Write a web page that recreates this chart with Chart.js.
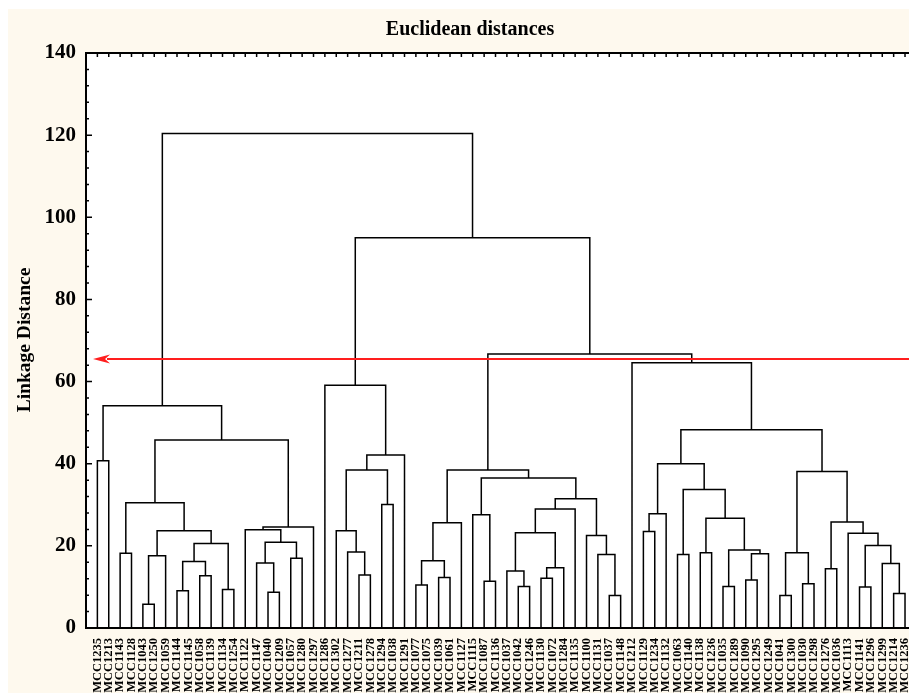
<!DOCTYPE html>
<html>
<head>
<meta charset="utf-8">
<title>Euclidean distances</title>
<script src="https://cdn.jsdelivr.net/npm/chart.js@4.4.1/dist/chart.umd.min.js"></script>
<style>
  html, body { margin: 0; padding: 0; background: #fff; }
  #wrap { width: 909px; height: 693px; }
</style>
</head>
<body>
<div id="wrap"><canvas id="chart" width="909" height="693"></canvas></div>
<script>
// leaves in the order they are drawn, left to right
const leafNames = [
  "MCC1235", "MCC1213", "MCC1143", "MCC1128", "MCC1043", "MCC1250", "MCC1059", "MCC1144",
  "MCC1145", "MCC1058", "MCC1139", "MCC1134", "MCC1254", "MCC1122", "MCC1147", "MCC1040",
  "MCC1209", "MCC1057", "MCC1280", "MCC1297", "MCC1286", "MCC1302", "MCC1277", "MCC1211",
  "MCC1278", "MCC1294", "MCC1038", "MCC1291", "MCC1077", "MCC1075", "MCC1039", "MCC1061",
  "MCC1127", "MCC1115", "MCC1087", "MCC1136", "MCC1037", "MCC1042", "MCC1246", "MCC1130",
  "MCC1072", "MCC1284", "MCC1135", "MCC1100", "MCC1131", "MCC1037", "MCC1148", "MCC1212",
  "MCC1129", "MCC1234", "MCC1132", "MCC1063", "MCC1140", "MCC1138", "MCC1236", "MCC1035",
  "MCC1289", "MCC1090", "MCC1295", "MCC1249", "MCC1041", "MCC1300", "MCC1030", "MCC1298",
  "MCC1276", "MCC1036", "MCC1113", "MCC1141", "MCC1296", "MCC1299", "MCC1214", "MCC1236"
];

// linkage: [node a, node b, linkage distance]; leaves are 0..71, merge k becomes node 72+k
const linkage = [
  [4, 5, 5.8], [2, 3, 18.2], [72, 6, 17.6], [7, 8, 9.1], [9, 10, 12.7],
  [75, 76, 16.2], [11, 12, 9.4], [77, 78, 20.6], [74, 79, 23.7], [73, 80, 30.5],
  [15, 16, 8.7], [14, 82, 15.8], [17, 18, 17.0], [83, 84, 20.9], [13, 85, 23.9],
  [86, 19, 24.6], [81, 87, 45.8], [0, 1, 40.7], [89, 88, 54.1],
  [23, 24, 12.9], [22, 91, 18.5], [21, 92, 23.7], [25, 26, 30.1], [93, 94, 38.5],
  [95, 27, 42.1], [20, 96, 59.1],
  [28, 29, 10.5], [30, 31, 12.3], [98, 99, 16.4], [100, 32, 25.6], [34, 35, 11.4],
  [33, 102, 27.6], [37, 38, 10.1], [36, 104, 13.9], [39, 40, 12.1], [106, 41, 14.7],
  [105, 107, 23.2], [108, 42, 29.0], [45, 46, 7.9], [44, 110, 17.9], [43, 111, 22.5],
  [109, 112, 31.5], [103, 113, 36.5], [101, 114, 38.5],
  [48, 49, 23.5], [116, 50, 27.8], [51, 52, 17.9], [53, 54, 18.3], [55, 56, 10.1],
  [57, 58, 11.7], [121, 59, 18.1], [120, 122, 19.0], [119, 123, 26.7], [118, 124, 33.7],
  [117, 125, 40.0], [60, 61, 7.9], [62, 63, 10.8], [127, 128, 18.3], [64, 65, 14.4],
  [67, 68, 10.0], [70, 71, 8.4], [69, 132, 15.7], [131, 133, 20.1], [66, 134, 23.1],
  [130, 135, 25.8], [129, 136, 38.1], [126, 137, 48.3], [47, 138, 64.6],
  [115, 139, 66.7], [97, 140, 95.0], [90, 141, 120.4]
];

const cutHeight = 65.5;     // red cut-off arrow
const yTicks = [0, 20, 40, 60, 80, 100, 120, 140];

// turn the linkage into elbow segments in data units
const nodes = leafNames.map((_, i) => ({ x: i, h: 0 }));
const elbows = [];
linkage.forEach(([a, b, h]) => {
  const na = nodes[a], nb = nodes[b];
  elbows.push({ x: na.x, y: na.h }, { x: na.x, y: h }, { x: nb.x, y: h }, { x: nb.x, y: nb.h }, { x: na.x, y: null });
  nodes.push({ x: (na.x + nb.x) / 2, h: h });
});

const serif = '"Liberation Serif", "Times New Roman", serif';

const frame = {
  id: 'frame',
  beforeDraw(chart) {
    const { ctx, chartArea: a } = chart;
    ctx.save();
    ctx.fillStyle = '#fff';
    ctx.fillRect(0, 0, chart.width, chart.height);
    ctx.fillStyle = '#fef9ee';
    ctx.fillRect(8, 9, chart.width - 8, chart.height - 9);
    ctx.fillStyle = '#fff';
    ctx.fillRect(a.left, a.top, a.right - a.left, a.bottom - a.top);
    ctx.restore();
  },
  afterDraw(chart) {
    const { ctx, chartArea: a, scales: { x, y } } = chart;
    ctx.save();
    ctx.strokeStyle = '#000';

    // ticks pointing into the plot
    ctx.lineWidth = 1.5;
    ctx.beginPath();
    for (let v = 0; v <= 140; v += 4) {
      const py = y.getPixelForValue(v);
      ctx.moveTo(a.left, py);
      ctx.lineTo(a.left + (v % 20 === 0 ? 6 : 3), py);
    }
    leafNames.forEach((_, i) => {
      const px = x.getPixelForValue(i);
      ctx.moveTo(px, a.top);
      ctx.lineTo(px, a.top + 4);
    });
    ctx.stroke();

    // frame
    ctx.lineWidth = 2;
    ctx.beginPath();
    ctx.moveTo(a.right, a.top);
    ctx.lineTo(a.left, a.top);
    ctx.lineTo(a.left, a.bottom);
    ctx.lineTo(a.right, a.bottom);
    ctx.stroke();

    // cut-off arrow
    const ry = y.getPixelForValue(cutHeight);
    const tip = a.left + 7;
    ctx.strokeStyle = '#ff1e1e';
    ctx.fillStyle = '#ff1e1e';
    ctx.lineWidth = 2;
    ctx.beginPath();
    ctx.moveTo(tip + 14, ry);
    ctx.lineTo(a.right, ry);
    ctx.stroke();
    ctx.beginPath();
    ctx.moveTo(tip, ry);
    ctx.lineTo(tip + 17, ry - 4.5);
    ctx.lineTo(tip + 12, ry);
    ctx.lineTo(tip + 17, ry + 4.5);
    ctx.closePath();
    ctx.fill();

    // titles
    ctx.fillStyle = '#000';
    ctx.textAlign = 'center';
    ctx.textBaseline = 'middle';
    ctx.font = 'bold 20px ' + serif;
    ctx.fillText('Euclidean distances', 470, 30);
    ctx.translate(25, 340);
    ctx.rotate(-Math.PI / 2);
    ctx.font = 'bold 19.5px ' + serif;
    ctx.fillText('Linkage Distance', 0, 0);
    ctx.restore();
  }
};

new Chart(document.getElementById('chart'), {
  type: 'scatter',
  data: {
    datasets: [{
      data: elbows,
      showLine: true,
      spanGaps: false,
      borderColor: '#000',
      borderWidth: 1.5,
      pointRadius: 0,
      tension: 0,
      fill: false
    }]
  },
  options: {
    responsive: false,
    animation: false,
    devicePixelRatio: 1,
    layout: { padding: { top: 53, left: 0, right: 0, bottom: 0 } },
    plugins: { legend: { display: false }, tooltip: { enabled: false } },
    scales: {
      x: {
        type: 'linear',
        min: -1,
        max: 71.35,
        grid: { display: false },
        border: { display: false },
        afterBuildTicks: (s) => { s.ticks = leafNames.map((_, i) => ({ value: i })); },
        afterFit: (s) => { s.height = 65; s.paddingLeft = 0; s.paddingRight = 0; },
        ticks: {
          autoSkip: false,
          minRotation: 90,
          maxRotation: 90,
          padding: 2,
          color: '#000',
          font: { family: serif, size: 12.5, weight: 'bold' },
          callback: (v) => leafNames[v] ?? ''
        }
      },
      y: {
        min: 0,
        max: 140,
        grid: { display: false },
        border: { display: false },
        afterBuildTicks: (s) => { s.ticks = yTicks.map(v => ({ value: v })); },
        afterFit: (s) => { s.width = 86; s.paddingTop = 0; s.paddingBottom = 0; },
        ticks: {
          padding: 2,
          color: '#000',
          font: { family: serif, size: 21, weight: 'bold' }
        }
      }
    }
  },
  plugins: [frame]
});
</script>
</body>
</html>
